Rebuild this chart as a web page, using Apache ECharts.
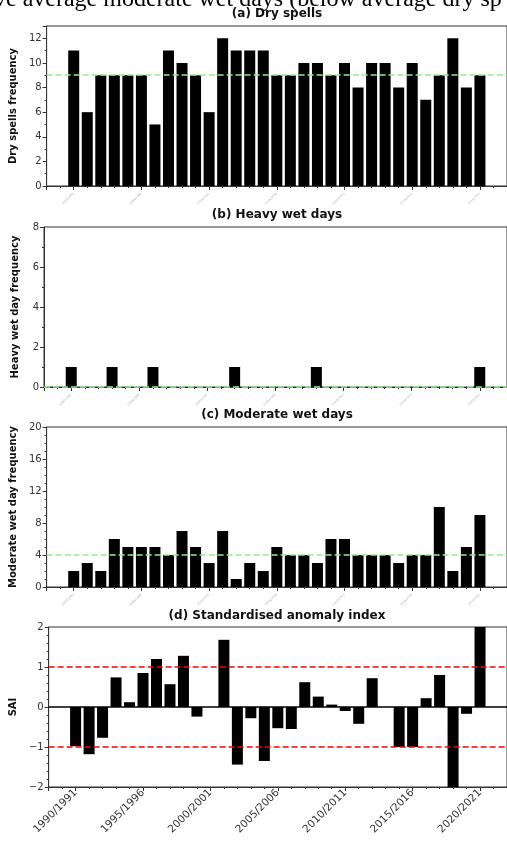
<!DOCTYPE html>
<html>
<head>
<meta charset="utf-8">
<script src="https://cdn.jsdelivr.net/npm/echarts@6/dist/echarts.min.js"></script>
<style>
  html, body { margin: 0; padding: 0; background: #fff; }
  #chart { width: 507px; height: 841px; }
</style>
</head>
<body>
<div id="chart"></div>
<script>
// seasons 1990/1991 .. 2020/2021
const seasons = []
for (let y = 1990; y <= 2020; y++) seasons.push(y + "/" + (y + 1))

const drySpells = [11, 6, 9, 9, 9, 9, 5, 11, 10, 9, 6, 12, 11, 11, 11, 9, 9, 10, 10, 9, 10, 8, 10, 10, 8, 10, 7, 9, 12, 8, 9]
const heavyWet = [1, 0, 0, 1, 0, 0, 1, 0, 0, 0, 0, 0, 1, 0, 0, 0, 0, 0, 1, 0, 0, 0, 0, 0, 0, 0, 0, 0, 0, 0, 1]
const moderateWet = [2, 3, 2, 6, 5, 5, 5, 4, 7, 5, 3, 7, 1, 3, 2, 5, 4, 4, 3, 6, 6, 4, 4, 4, 3, 4, 4, 10, 2, 5, 9]
const sai = [-0.98, -1.18, -0.77, 0.74, 0.12, 0.85, 1.2, 0.57, 1.28, -0.24, 0, 1.68, -1.44, -0.28, -1.35, -0.53, -0.55, 0.62, 0.26, 0.06, -0.1, -0.42, 0.72, 0, -1.0, -1.0, 0.22, 0.8, -2.0, -0.17, 2.0]

const dryRef = 9
const heavyRef = 0
const moderateRef = 4
const saiLimits = [1, -1]

const titles = ["(a) Dry spells", "(b) Heavy wet days", "(c) Moderate wet days", "(d) Standardised anomaly index"]
const yNames = ["Dry spells frequency", "Heavy wet day frequency", "Moderate wet day frequency", "SAI"]

let chart = echarts.init(document.getElementById("chart"))
let font = "DejaVu Sans"
let ink = "#333"

let tops = [26, 227, 427, 627]
let titleY = [8, 209, 409, 610]

let grids = tops.map(function (t) {
    return {left: 44, right: -3, top: t, height: 160, show: true, borderColor: ink, borderWidth: 1, backgroundColor: "transparent"}
})

let xAxes = tops.map(function (t, k) {
    let last = k === 3
    return {
        type: "value", gridIndex: k, min: -2, max: 32, splitNumber: 7,
        axisLine: {onZero: false, lineStyle: {color: ink}},
        axisTick: {length: 4, lineStyle: {color: ink}},
        minorTick: {show: true, splitNumber: 5, length: 2, lineStyle: {color: ink}},
        splitLine: {show: false},
        axisLabel: {
            showMinLabel: false, showMaxLabel: false,
            rotate: 45, margin: last ? 4 : 7,
            fontFamily: font, fontSize: last ? 10.5 : 3,
            color: last ? ink : "#aaa",
            formatter: function (v) { return seasons[v] || "" }
        }
    }
})

let yRanges = [[0, 13, 2, 2], [0, 8, 2, 2], [0, 20, 4, 4], [-2, 2, 1, 5]]
let yAxes = yRanges.map(function (r, k) {
    return {
        type: "value", gridIndex: k, min: r[0], max: r[1], interval: r[2],
        name: yNames[k], nameLocation: "middle", nameGap: 24,
        nameTextStyle: {fontFamily: font, fontWeight: "bold", fontSize: 10, color: "#111"},
        axisLine: {show: true, onZero: false, lineStyle: {color: ink}},
        axisTick: {show: true, length: 4, lineStyle: {color: ink}},
        minorTick: {show: true, splitNumber: r[3], length: 2, lineStyle: {color: ink}},
        splitLine: {show: false},
        axisLabel: {showMaxLabel: k !== 0, fontFamily: font, fontSize: 10, color: ink, margin: 5,
            formatter: function (v) { return v < 0 ? "\u2212" + Math.abs(v) : String(v) }}
    }
})

function refLine(values, color, type) {
    return {
        silent: true, symbol: "none", label: {show: false},
        lineStyle: {color: color, type: type, width: 1.5},
        data: values.map(function (v) { return {yAxis: v} })
    }
}

function barSeries(values, k, lines) {
    return {
        type: "bar", xAxisIndex: k, yAxisIndex: k,
        barWidth: 11,
        itemStyle: {color: "#000"},
        data: values.map(function (v, i) { return [i, v] }),
        markLine: lines
    }
}

let green = "#90ee90"
let option = {
    animation: false,
    backgroundColor: "#fff",
    title: titles.map(function (t, k) {
        return {text: t, left: 277, top: titleY[k], textAlign: "center", padding: 0,
            textStyle: {fontFamily: font, fontWeight: "bold", fontSize: 12, color: "#111"}}
    }),
    grid: grids,
    xAxis: xAxes,
    yAxis: yAxes,
    series: [
        barSeries(drySpells, 0, refLine([dryRef], green, [6, 3])),
        barSeries(heavyWet, 1, refLine([heavyRef], green, [6, 3])),
        barSeries(moderateWet, 2, refLine([moderateRef], green, [6, 3])),
        barSeries(sai, 3, {
            silent: true, symbol: "none", label: {show: false},
            data: [
                {yAxis: 0, lineStyle: {color: "#000", type: "solid", width: 1.5}},
                {yAxis: saiLimits[0], lineStyle: {color: "#ff0000", type: [6, 3], width: 1.5}},
                {yAxis: saiLimits[1], lineStyle: {color: "#ff0000", type: [6, 3], width: 1.5}}
            ]
        })
    ],
    graphic: [{
        type: "text", x: -6, y: 0,
        style: {text: "ve average moderate wet days (below average dry sp", font: "24px 'Liberation Serif'",
            fill: "#000", verticalAlign: "middle"}
    }]
}
chart.setOption(option)
</script>
</body>
</html>
